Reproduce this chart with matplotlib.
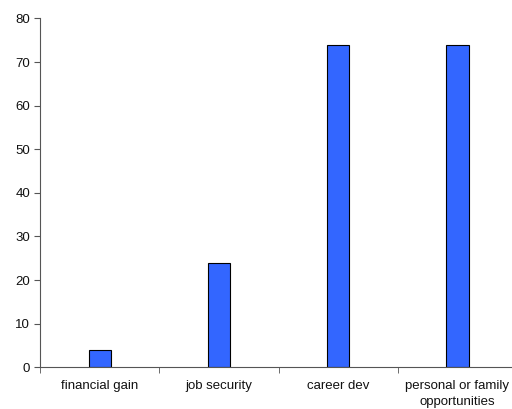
import matplotlib.pyplot as plt
import numpy as np

plt.rcParams['font.family'] = ['Liberation Sans', 'DejaVu Sans']

categories = ['financial gain', 'job security', 'career dev', 'personal or family\nopportunities']
values = [4, 24, 74, 74]

fig = plt.figure(figsize=(5.12, 4.09), dpi=100)
ax = fig.add_axes([0.078, 0.102, 0.932, 0.853])

x = np.arange(len(categories))
ax.bar(x, values, width=0.185, color='#3366FF', edgecolor='black', linewidth=0.8)

ax.set_xlim(-0.5, len(categories) - 0.5)
ax.set_ylim(0, 80)
ax.set_yticks(np.arange(0, 81, 10))
ax.set_xticks(x)
ax.set_xticklabels(categories, fontsize=9.5, color='#111111', linespacing=1.45)
ax.set_xticks(np.arange(-0.5, len(categories), 1), minor=True)
ax.tick_params(axis='x', which='major', length=0, pad=9)
ax.tick_params(axis='x', which='minor', length=4, color='#555555')
ax.tick_params(axis='y', length=4, pad=3, color='#555555', labelsize=9.5, labelcolor='#111111')

for s in ['top', 'right']:
    ax.spines[s].set_visible(False)
for s in ['left', 'bottom']:
    ax.spines[s].set_color('#555555')
    ax.spines[s].set_linewidth(0.8)

fig.savefig('out.png', dpi=100)
